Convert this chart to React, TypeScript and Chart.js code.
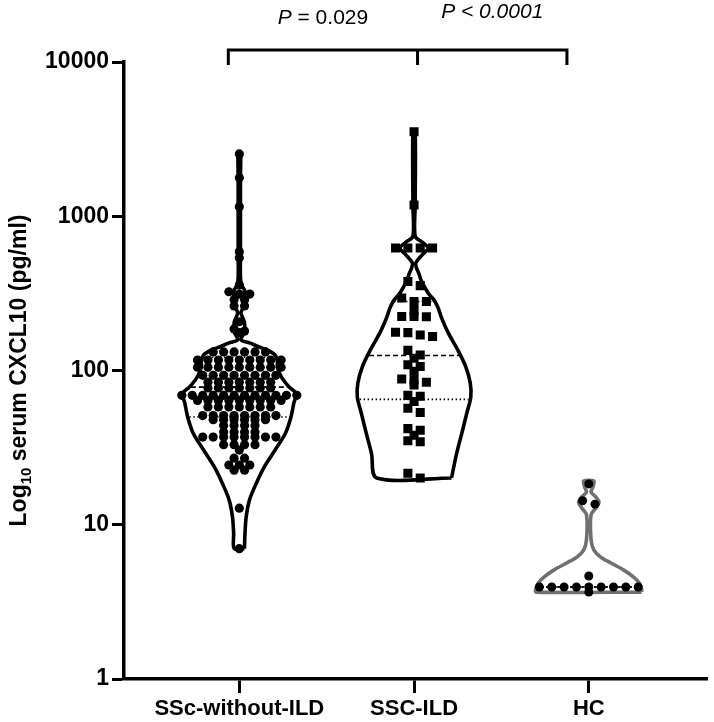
import React, { useEffect, useRef } from 'react';
import { Chart, registerables } from 'chart.js';

Chart.register(...registerables);

// ---------------- data ----------------
const categories = ['SSc-without-ILD', 'SSC-ILD', 'HC'];
const yTickValues = [1, 10, 100, 1000, 10000];

// serum CXCL10 (pg/ml)
const sscNoIld = [
  2535, 1778, 1153, 589, 538, 358, 324, 313, 313, 287, 287, 262, 262, 207, 186, 180, 176,
  132, 132, 132, 132, 132, 132,
  117, 117, 117, 117, 117, 117, 117, 117, 117,
  105, 105, 105, 105, 105, 105, 105, 105, 105,
  93, 93, 93, 93, 93, 93, 93, 93,
  84, 84, 84, 84, 84, 84, 84,
  77, 77, 77, 77, 77, 77, 77,
  69, 69, 69, 69, 69, 69, 69, 69, 69, 69, 69, 69,
  64, 64, 64, 64, 64, 64, 64, 64, 64,
  58, 58, 58, 58, 58, 58, 58,
  51, 51, 51, 51, 51, 51, 51, 51,
  48, 48, 48, 48, 48, 48,
  44, 44, 44, 44,
  40, 40, 40, 40,
  37, 37, 37, 37, 37, 37, 37, 37,
  33, 33, 33, 33,
  30.5, 27, 27, 24.4, 24.4, 24.4, 22.6, 22.6, 12.8, 7.0,
];
const sscIld = [
  3534, 1183, 622, 622, 622, 622, 377, 355, 295, 280, 280, 245, 224, 224, 223,
  177, 176, 170, 166, 135, 126, 120, 109, 106, 99, 88, 87, 84, 80.5, 69, 68, 63,
  57, 53.5, 42, 41, 38, 35, 34.5, 21.6, 20.1,
];
const hc = [18.4, 14.3, 13.6, 4.65, 3.95, 3.95, 3.95, 3.95, 3.95, 3.95, 3.95, 3.95, 3.95, 3.66];

// violin outlines: levels (top -> bottom) and relative density (1 = widest)
const violinLevelsNoIld = [2535, 1800, 1150, 600, 400, 358, 333, 300, 266, 236, 206, 178, 158, 151, 142, 136, 126, 115, 105, 91, 78, 71, 61.5, 50, 39, 30.5, 23.7, 18.6, 14.5, 11.2, 8.8, 7.0];
const violinDensityNoIld = [0.02, 0.02, 0.02, 0.02, 0.02, 0.04, 0.09, 0.1, 0.09, 0.03, 0.09, 0.09, 0.03, 0.18, 0.35, 0.49, 0.63, 0.67, 0.67, 0.74, 0.88, 1.0, 0.96, 0.91, 0.81, 0.63, 0.44, 0.3, 0.18, 0.12, 0.1, 0.09];
const violinLevelsIld = [3534, 1183, 740, 680, 622, 560, 497, 465, 420, 388, 317, 287, 257, 222, 176, 136, 106, 83, 67.5, 53, 39, 29, 20.1];
const violinDensityIld = [0.02, 0.02, 0.02, 0.14, 0.25, 0.14, 0.03, 0.04, 0.09, 0.12, 0.25, 0.35, 0.42, 0.48, 0.6, 0.77, 0.91, 0.99, 1.0, 0.93, 0.84, 0.75, 0.66];
const violinLevelsHc = [19.2, 17.5, 16.3, 15.2, 14.0, 12.8, 11.6, 8.0, 6.85, 6.17, 5.65, 5.1, 4.58, 4.19, 3.85, 3.66];
const violinDensityHc = [0.09, 0.07, 0.04, 0.12, 0.18, 0.12, 0.04, 0.04, 0.09, 0.21, 0.39, 0.61, 0.79, 0.89, 0.93, 0.93];

const medians = [78, 125, 3.95];
const lowerQuartiles = [50, 65, 3.95];
const upperQuartiles = [122, 280, 3.95];

// significance bracket (x in category units) and its labels
const bracketX = [-0.063, 1.02, 1.875];
const pValueTexts = ['= 0.029', '< 0.0001'];
const bracketTop = 11970;
const bracketFoot = 9570;

// ---------------- layout / style ----------------
const FONT = 'Arial, "Liberation Sans", Helvetica, sans-serif';
const X_MIN = -0.66;
const X_MAX = 2.68;
const PLOT_LEFT = 124;
const PLOT_RIGHT = 710;
const PLOT_TOP = 62;
const PLOT_BOTTOM = 679;
const X_PX = (PLOT_RIGHT - PLOT_LEFT) / (X_MAX - X_MIN);
const DECADE_PX = (PLOT_BOTTOM - PLOT_TOP) / 4;
const VIOLIN_HALF = 57 / X_PX;

type P = { x: number; y: number };

function swarm(values: number[], center: number, spacingPx: number, tolPx: number): P[] {
  const sorted = [...values].sort((a, b) => b - a);
  const out: P[] = [];
  let row: number[] = [];
  const flush = () => {
    const n = row.length;
    row.forEach((v, i) => out.push({ x: center + ((i - (n - 1) / 2) * spacingPx) / X_PX, y: v }));
    row = [];
  };
  for (const v of sorted) {
    if (row.length && Math.abs(Math.log10(row[0]) - Math.log10(v)) * DECADE_PX > tolPx) flush();
    row.push(v);
  }
  flush();
  return out;
}

function violinPath(levels: number[], dens: number[], center: number): P[] {
  const pts: P[] = [];
  const n = levels.length;
  for (let i = n - 1; i >= 0; i--) pts.push({ x: center + dens[i] * VIOLIN_HALF, y: levels[i] });
  for (let i = 0; i < n; i++) pts.push({ x: center - dens[i] * VIOLIN_HALF, y: levels[i] });
  pts.push({ ...pts[0] });
  return pts;
}

function densityAt(levels: number[], dens: number[], v: number): number {
  const lv = Math.log10(v);
  for (let i = 0; i < levels.length - 1; i++) {
    const a = Math.log10(levels[i]);
    const b = Math.log10(levels[i + 1]);
    if (lv <= a && lv >= b) {
      const t = (a - lv) / (a - b || 1);
      return dens[i] + t * (dens[i + 1] - dens[i]);
    }
  }
  return dens[dens.length - 1];
}

function statLine(levels: number[], dens: number[], center: number, v: number): P[] {
  const hw = densityAt(levels, dens, v) * VIOLIN_HALF * 0.97;
  return [{ x: center - hw, y: v }, { x: center + hw, y: v }];
}

const annotations = {
  id: 'annotations',
  afterDraw(chart: any) {
    const { ctx, scales, chartArea } = chart;
    const x = scales.x;
    ctx.save();
    ctx.fillStyle = '#000';
    ctx.textBaseline = 'alphabetic';
    ctx.textAlign = 'left';
    const drawParts = (parts: { t: string; f: string }[], cx: number, baseline: number) => {
      let total = 0;
      const ws = parts.map((p) => {
        ctx.font = p.f;
        const w = ctx.measureText(p.t).width;
        total += w;
        return w;
      });
      let px = cx - total / 2;
      parts.forEach((p, i) => {
        ctx.font = p.f;
        ctx.fillText(p.t, px, baseline);
        px += ws[i];
      });
    };
    drawParts(
      [
        { t: 'P', f: `italic 21px ${FONT}` },
        { t: ' ' + pValueTexts[0], f: `21px ${FONT}` },
      ],
      x.getPixelForValue((bracketX[0] + bracketX[1]) / 2),
      24
    );
    drawParts(
      [
        { t: 'P', f: `italic 21px ${FONT}` },
        { t: ' ' + pValueTexts[1], f: `italic 21px ${FONT}` },
      ],
      x.getPixelForValue((bracketX[1] + bracketX[2]) / 2),
      18
    );
    // y axis title with subscript
    ctx.translate(26, (chartArea.top + chartArea.bottom) / 2);
    ctx.rotate(-Math.PI / 2);
    const big = `bold 23px ${FONT}`;
    const small = `bold 15px ${FONT}`;
    ctx.font = big;
    const w1 = ctx.measureText('Log').width;
    const w3 = ctx.measureText(' serum CXCL10 (pg/ml)').width;
    ctx.font = small;
    const w2 = ctx.measureText('10').width;
    const x0 = -(w1 + w2 + w3) / 2;
    ctx.font = big;
    ctx.fillText('Log', x0, 0);
    ctx.font = small;
    ctx.fillText('10', x0 + w1, 5);
    ctx.font = big;
    ctx.fillText(' serum CXCL10 (pg/ml)', x0 + w1 + w2, 0);
    ctx.restore();
  },
};

export default function App() {
  const ref = useRef<HTMLCanvasElement | null>(null);

  useEffect(() => {
    if (!ref.current) return;
    const groups = [
      { values: sscNoIld, levels: violinLevelsNoIld, dens: violinDensityNoIld, color: '#000', style: 'circle', radius: 4.6, spacing: 10.5, tol: 3 },
      { values: sscIld, levels: violinLevelsIld, dens: violinDensityIld, color: '#000', style: 'rect', radius: 6.4, spacing: 12.4, tol: 5 },
      { values: hc, levels: violinLevelsHc, dens: violinDensityHc, color: '#707070', style: 'circle', radius: 4.5, spacing: 12.4, tol: 5 },
    ];
    const datasets: any[] = [];
    groups.forEach((g, i) => {
      datasets.push({
        label: categories[i] + ' points',
        data: swarm(g.values, i, g.spacing, g.tol),
        pointStyle: g.style,
        pointRadius: g.radius,
        pointBackgroundColor: '#000',
        pointBorderWidth: 0,
        showLine: false,
        order: 0,
      });
      datasets.push({
        label: categories[i] + ' violin',
        data: violinPath(g.levels, g.dens, i),
        showLine: true,
        borderColor: g.color,
        borderWidth: 3.6,
        tension: 0.3,
        pointRadius: 0,
        fill: false,
        order: 2,
      });
      const stats = [
        { v: medians[i], dash: [5, 3], w: 1.6 },
        { v: lowerQuartiles[i], dash: [1.5, 2.5], w: 1.6 },
        { v: upperQuartiles[i], dash: [1.5, 2.5], w: 1.6 },
      ];
      stats.forEach((s) => {
        datasets.push({
          label: categories[i] + ' stat',
          data: statLine(g.levels, g.dens, i, s.v),
          showLine: true,
          borderColor: '#000',
          borderWidth: s.w,
          borderDash: s.dash,
          pointRadius: 0,
          order: 1,
        });
      });
    });
    datasets.push({
      label: 'bracket',
      data: [
        { x: bracketX[0], y: bracketFoot },
        { x: bracketX[0], y: bracketTop },
        { x: bracketX[2], y: bracketTop },
        { x: bracketX[2], y: bracketFoot },
      ],
      showLine: true,
      borderColor: '#000',
      borderWidth: 3,
      pointRadius: 0,
      clip: false,
      order: 0,
    });
    datasets.push({
      label: 'bracket mid',
      data: [
        { x: bracketX[1], y: bracketTop },
        { x: bracketX[1], y: bracketFoot },
      ],
      showLine: true,
      borderColor: '#000',
      borderWidth: 3,
      pointRadius: 0,
      clip: false,
      order: 0,
    });

    const chart = new Chart(ref.current, {
      type: 'scatter',
      data: { datasets },
      options: {
        responsive: false,
        animation: false,
        devicePixelRatio: 1,
        layout: { padding: { top: PLOT_TOP, right: 714 - PLOT_RIGHT, left: 0, bottom: 0 } },
        plugins: { legend: { display: false }, tooltip: { enabled: false } },
        scales: {
          x: {
            type: 'linear',
            min: X_MIN,
            max: X_MAX,
            afterFit: (s: any) => {
              s.height = 722 - PLOT_BOTTOM;
            },
            afterBuildTicks: (s: any) => {
              s.ticks = categories.map((_, i) => ({ value: i }));
            },
            ticks: {
              autoSkip: false,
              maxRotation: 0,
              padding: 3,
              color: '#000',
              font: { family: FONT, size: 22, weight: 'bold' },
              callback: (v: any) => categories[Math.round(Number(v))] ?? '',
            },
            grid: { drawOnChartArea: false, drawTicks: true, tickLength: 14, tickWidth: 3, tickColor: '#000' },
            border: { display: true, width: 3.5, color: '#000' },
          },
          y: {
            type: 'logarithmic',
            min: 1,
            max: 10000,
            afterFit: (s: any) => {
              s.width = PLOT_LEFT;
            },
            afterBuildTicks: (s: any) => {
              s.ticks = yTickValues.map((v) => ({ value: v }));
            },
            ticks: {
              autoSkip: false,
              padding: 3,
              color: '#000',
              font: { family: FONT, size: 23, weight: 'bold' },
              callback: (v: any) => String(v),
            },
            grid: { drawOnChartArea: false, drawTicks: true, tickLength: 12, tickWidth: 3, tickColor: '#000' },
            border: { display: true, width: 3.5, color: '#000' },
          },
        },
      },
      plugins: [annotations],
    } as any);
    return () => chart.destroy();
  }, []);

  return (
    <div style={{ position: 'absolute', left: 0, top: 0, width: 714, height: 722, background: '#fff' }}>
      <canvas ref={ref} width={714} height={722} style={{ width: 714, height: 722, display: 'block' }} />
    </div>
  );
}
